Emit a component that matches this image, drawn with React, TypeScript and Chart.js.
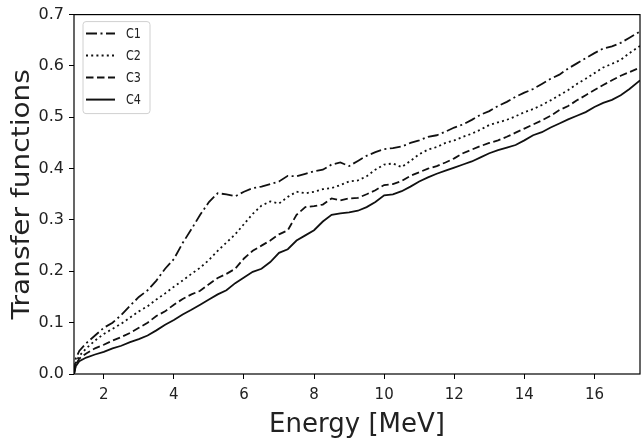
import React, { useEffect, useRef } from 'react';
import { Chart, registerables } from 'chart.js';

Chart.register(...registerables);

const energy = [
  1.15, 1.2, 1.3, 1.5,
  1.75,
  2, 2.25, 2.5, 2.75,
  3, 3.25, 3.5, 3.75,
  4, 4.25, 4.5, 4.75,
  5, 5.25, 5.5, 5.75,
  6, 6.25, 6.5, 6.75,
  7, 7.25, 7.5, 7.75,
  8, 8.25, 8.5, 8.75,
  9, 9.25, 9.5, 9.75,
  10, 10.25, 10.5, 10.75,
  11, 11.25, 11.5, 11.75,
  12, 12.25, 12.5, 12.75,
  13, 13.25, 13.5, 13.75,
  14, 14.25, 14.5, 14.75,
  15, 15.25, 15.5, 15.75,
  16, 16.25, 16.5, 16.75,
  17, 17.3,
];

const c1 = [
  0, 0.03, 0.045, 0.06,
  0.075,
  0.09, 0.1, 0.115, 0.133,
  0.15, 0.163, 0.182, 0.205,
  0.224, 0.255, 0.282, 0.31,
  0.335, 0.352, 0.35, 0.346,
  0.355, 0.362, 0.365, 0.37,
  0.375, 0.386, 0.385, 0.39,
  0.395, 0.398, 0.408, 0.412,
  0.405, 0.415, 0.425, 0.432,
  0.438, 0.44, 0.443, 0.45,
  0.455, 0.462, 0.465, 0.472,
  0.48, 0.486, 0.495, 0.505,
  0.512, 0.522, 0.53, 0.54,
  0.548, 0.555, 0.565, 0.575,
  0.583, 0.595, 0.605, 0.615,
  0.625, 0.634, 0.638, 0.645,
  0.655, 0.667,
];

const c2 = [
  0, 0.022, 0.035, 0.05,
  0.065,
  0.078, 0.088, 0.098, 0.11,
  0.122, 0.132, 0.145, 0.157,
  0.17, 0.182, 0.195, 0.207,
  0.222, 0.24, 0.256, 0.272,
  0.292, 0.312, 0.328, 0.336,
  0.332, 0.345, 0.355, 0.352,
  0.355, 0.36, 0.362, 0.368,
  0.375, 0.377, 0.385, 0.398,
  0.408, 0.41, 0.403, 0.415,
  0.428, 0.437, 0.442, 0.45,
  0.455, 0.462, 0.468, 0.476,
  0.485, 0.49, 0.495, 0.502,
  0.51, 0.516, 0.524, 0.533,
  0.543, 0.553, 0.565, 0.575,
  0.586, 0.597, 0.604, 0.612,
  0.625, 0.639,
];

const c3 = [
  0, 0.018, 0.03, 0.04,
  0.05,
  0.057, 0.065, 0.072, 0.08,
  0.09, 0.1, 0.113, 0.122,
  0.135, 0.146, 0.155, 0.162,
  0.175, 0.187, 0.195, 0.205,
  0.225, 0.24, 0.25, 0.26,
  0.272, 0.28, 0.31, 0.325,
  0.327, 0.33, 0.342, 0.338,
  0.342, 0.343, 0.35, 0.358,
  0.368, 0.37, 0.376, 0.386,
  0.393, 0.4, 0.405, 0.412,
  0.42, 0.43, 0.437, 0.444,
  0.45, 0.455, 0.462, 0.47,
  0.478, 0.486, 0.494, 0.503,
  0.514, 0.522, 0.533, 0.543,
  0.553, 0.563, 0.572, 0.581,
  0.588, 0.597,
];

const c4 = [
  0, 0.015, 0.025, 0.032,
  0.038,
  0.043, 0.05, 0.055, 0.062,
  0.068, 0.075, 0.085, 0.096,
  0.105, 0.116, 0.125, 0.135,
  0.145, 0.155, 0.163, 0.177,
  0.188, 0.199, 0.205, 0.218,
  0.236, 0.243, 0.26, 0.27,
  0.28, 0.297, 0.31, 0.313,
  0.315, 0.318, 0.325, 0.335,
  0.348, 0.35, 0.356, 0.365,
  0.375, 0.383, 0.39, 0.396,
  0.402, 0.408, 0.414, 0.422,
  0.43, 0.436, 0.441, 0.446,
  0.455, 0.465, 0.471, 0.48,
  0.488, 0.496, 0.503, 0.51,
  0.52, 0.528, 0.534, 0.543,
  0.555, 0.572,
];

const seriesLabels = ['C1', 'C2', 'C3', 'C4'];
const seriesValues = [c1, c2, c3, c4];
const xTicks = [2, 4, 6, 8, 10, 12, 14, 16];
const yTicks = [0, 0.1, 0.2, 0.3, 0.4, 0.5, 0.6, 0.7];
const xTitle = 'Energy [MeV]';
const yTitle = 'Transfer functions';

const dashes: number[][] = [[11, 3.5, 2, 3.5], [2, 3.2], [7.5, 3.5], []];
const FONT = "'DejaVu Sans', sans-serif";

const overlayPlugin = {
  id: 'overlay',
  afterDraw(chart: any) {
    const { ctx, chartArea: a } = chart;
    ctx.save();
    // frame
    ctx.strokeStyle = '#000';
    ctx.lineWidth = 1.2;
    ctx.setLineDash([]);
    ctx.strokeRect(a.left, a.top, a.right - a.left, a.bottom - a.top);

    // legend
    const lx = a.left + 9;
    const ly = a.top + 7;
    const lw = 67;
    const lh = 92;
    ctx.beginPath();
    const r = 3;
    ctx.moveTo(lx + r, ly);
    ctx.lineTo(lx + lw - r, ly);
    ctx.quadraticCurveTo(lx + lw, ly, lx + lw, ly + r);
    ctx.lineTo(lx + lw, ly + lh - r);
    ctx.quadraticCurveTo(lx + lw, ly + lh, lx + lw - r, ly + lh);
    ctx.lineTo(lx + r, ly + lh);
    ctx.quadraticCurveTo(lx, ly + lh, lx, ly + lh - r);
    ctx.lineTo(lx, ly + r);
    ctx.quadraticCurveTo(lx, ly, lx + r, ly);
    ctx.closePath();
    ctx.fillStyle = 'rgba(255,255,255,0.9)';
    ctx.fill();
    ctx.strokeStyle = '#d0d0d0';
    ctx.lineWidth = 1;
    ctx.stroke();

    ctx.font = `14px ${FONT}`;
    ctx.textBaseline = 'middle';
    ctx.textAlign = 'left';
    seriesLabels.forEach((lab, i) => {
      const y = ly + 12 + i * 22;
      ctx.beginPath();
      ctx.setLineDash(dashes[i]);
      ctx.strokeStyle = '#111';
      ctx.lineWidth = 2;
      ctx.moveTo(lx + 3, y);
      ctx.lineTo(lx + 32, y);
      ctx.stroke();
      ctx.setLineDash([]);
      ctx.fillStyle = '#222';
      ctx.save();
      ctx.translate(lx + 43, y + 1);
      ctx.scale(0.8, 1);
      ctx.fillText(lab, 0, 0);
      ctx.restore();
    });

    // axis titles
    ctx.fillStyle = '#222';
    ctx.font = `26px ${FONT}`;
    ctx.textAlign = 'center';
    ctx.textBaseline = 'alphabetic';
    ctx.fillText(xTitle, (a.left + a.right) / 2, 432);
    ctx.save();
    ctx.font = `28px ${FONT}`;
    ctx.translate(29, (a.top + a.bottom) / 2);
    ctx.scale(0.9, 1);
    ctx.rotate(-Math.PI / 2);
    ctx.fillText(yTitle, 0, 0);
    ctx.restore();
    ctx.restore();
  },
};

export default function App() {
  const ref = useRef<HTMLCanvasElement>(null);
  useEffect(() => {
    if (!ref.current) return;
    const chart = new Chart(ref.current, {
      type: 'line',
      data: {
        datasets: seriesLabels.map((lab, i) => ({
          label: lab,
          data: energy.map((e, j) => ({ x: e, y: seriesValues[i][j] })),
          borderColor: '#111',
          borderWidth: 1.8,
          borderDash: dashes[i],
          pointRadius: 0,
          tension: 0,
          fill: false,
        })),
      },
      options: {
        animation: false,
        responsive: false,
        layout: { padding: { top: 8, right: 4, left: 0, bottom: 0 } },
        plugins: { legend: { display: false }, tooltip: { enabled: false } },
        scales: {
          x: {
            type: 'linear',
            min: 1.15,
            max: 17.3,
            afterBuildTicks: (s: any) => {
              s.ticks = xTicks.map((v) => ({ value: v }));
            },
            afterFit: (s: any) => {
              s.height = 66;
            },
            grid: {
              display: true,
              drawOnChartArea: false,
              drawTicks: true,
              tickLength: 5,
              tickColor: '#000',
              color: '#000',
            },
            border: { display: false },
            ticks: {
              font: { size: 15, family: FONT },
              color: '#222',
              padding: 7,
              maxRotation: 0,
              autoSkip: false,
              callback: (v: any) => String(v),
            },
          },
          y: {
            type: 'linear',
            min: 0,
            max: 0.7,
            afterBuildTicks: (s: any) => {
              s.ticks = yTicks.map((v) => ({ value: v }));
            },
            afterFit: (s: any) => {
              s.width = 74;
            },
            grid: {
              display: true,
              drawOnChartArea: false,
              drawTicks: true,
              tickLength: 5,
              tickColor: '#000',
              color: '#000',
            },
            border: { display: false },
            ticks: {
              font: { size: 16, family: FONT },
              color: '#222',
              padding: 5,
              autoSkip: false,
              callback: (v: any) => Number(v).toFixed(1),
            },
          },
        },
      },
      plugins: [overlayPlugin],
    } as any);
    return () => chart.destroy();
  }, []);
  return (
    <div style={{ position: 'fixed', left: 0, top: 0, width: 644, height: 440, background: '#fff' }}>
      <canvas ref={ref} width={644} height={440} />
    </div>
  );
}
